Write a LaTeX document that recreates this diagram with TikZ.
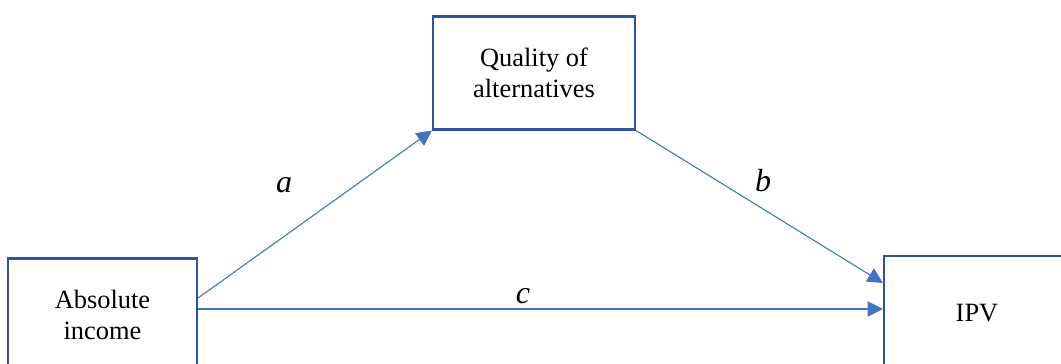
\documentclass[tikz,border=0pt]{standalone}
\usepackage{fontspec}
\setmainfont{Liberation Serif}
\usetikzlibrary{arrows.meta}
\definecolor{boxblue}{HTML}{2F5597}
\definecolor{arrblue}{HTML}{4472C4}

\begin{document}
\begin{tikzpicture}[x=0.75pt,y=-0.75pt,>={Triangle[length=11.5pt,width=11.5pt]},
    varbox/.style={draw=boxblue,line width=1.6pt,fill=white,align=center,inner sep=0pt,
      font=\fontsize{19.8}{23.3}\selectfont},
    path/.style={->,draw=arrblue,fill=arrblue,line width=0.8pt},
    coef/.style={font=\fontsize{24}{28}\selectfont\itshape}]
  \useasboundingbox (0,0) rectangle (1061,364);
  \node[varbox,minimum width=151.5pt,minimum height=84.75pt] (qual) at (534,73) {Quality of\\alternatives};
  \node[varbox,minimum width=141.75pt,minimum height=84.75pt] (inc) at (102.5,315) {Absolute\\income};
  \node[varbox,minimum width=139.5pt,minimum height=85.5pt] (ipv) at (977,313) {IPV};
  \draw[path] ([yshift=12.75pt]inc.east) -- (qual.south west);
  \draw[path] (qual.south east) -- ([yshift=22.5pt]ipv.west);
  \draw[path] ([yshift=4.5pt]inc.east) -- ([yshift=4.5pt]inc.east -| ipv.west);
  \node[coef] (la) at (284,185) {a};
  \node[coef] (lb) at (763,181) {b};
  \node[coef] (lc) at (523,296) {c};
\end{tikzpicture}
\end{document}
